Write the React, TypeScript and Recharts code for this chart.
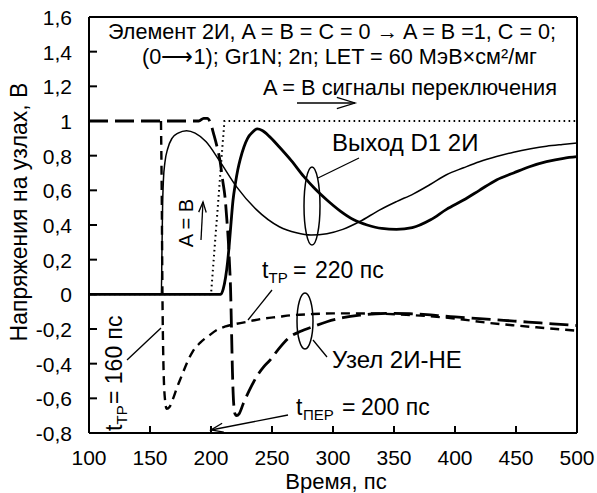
import React from 'react';
import { LineChart, Line, XAxis, YAxis, ReferenceLine } from 'recharts';

const W = 597;
const H = 493;
const FONT = '"Liberation Sans", Arial, sans-serif';

// A = B switching signal (dotted)
const sigT = [100, 200, 211, 500];
const sigV = [0, 0, 1, 1];

// output D1 2И, strike at 160 ps (thin solid)
const out1T = [100, 159.3, 159.8, 160.3, 161, 162.2, 164.5, 168, 173, 180, 187, 196, 207, 221, 237, 256, 270, 282, 295, 308, 322, 338, 352, 366, 380, 393, 407, 420, 434, 448, 462, 475, 488, 500];
const out1V = [0, 0, 0.25, 0.5, 0.66, 0.76, 0.84, 0.9, 0.93, 0.944, 0.93, 0.88, 0.77, 0.62, 0.49, 0.39, 0.355, 0.342, 0.35, 0.375, 0.42, 0.486, 0.535, 0.58, 0.635, 0.69, 0.73, 0.765, 0.795, 0.82, 0.84, 0.855, 0.865, 0.873];

// output D1 2И, strike at 220 ps (thick solid)
const out2T = [100, 208, 210, 212, 213.5, 215, 216.5, 218, 220, 222, 224, 227, 230, 234, 238, 242, 248, 256, 266, 276, 285, 295, 306, 317, 328, 340, 352, 365, 380, 393, 407, 420, 434, 448, 461, 475, 489, 500];
const out2V = [0, 0, 0.03, 0.1, 0.18, 0.29, 0.42, 0.54, 0.64, 0.72, 0.78, 0.85, 0.9, 0.935, 0.954, 0.945, 0.91, 0.85, 0.77, 0.68, 0.61, 0.544, 0.48, 0.43, 0.4, 0.38, 0.375, 0.385, 0.43, 0.49, 0.544, 0.6, 0.66, 0.7, 0.736, 0.765, 0.785, 0.794];

// node 2И-НЕ, strike at 160 ps (short dashes)
const node1T = [159, 159.6, 160.2, 161, 162.2, 163.7, 166, 169, 172, 176, 180, 185, 191, 198, 205, 212, 221, 232, 243, 255, 267, 280, 300, 320, 340, 360, 380, 400, 428, 450, 475, 500];
const node1V = [1, 0.6, 0, -0.4, -0.6, -0.66, -0.65, -0.6, -0.54, -0.47, -0.4, -0.33, -0.28, -0.24, -0.205, -0.185, -0.17, -0.155, -0.14, -0.13, -0.12, -0.115, -0.11, -0.11, -0.112, -0.118, -0.127, -0.14, -0.165, -0.18, -0.195, -0.21];

// node 2И-НЕ, strike at 220 ps (long dashes)
const node2T = [100, 190, 194, 197, 200, 202, 205, 207.4, 209.5, 211.5, 213, 214.2, 215.2, 216, 216.8, 217.6, 218.5, 219.7, 221, 223, 226.5, 231, 237.4, 243, 248.4, 256, 264.8, 273, 284, 295, 308, 322, 335, 349, 363, 377, 390, 400, 420, 440, 460, 480, 500];
const node2V = [1, 1, 1.015, 1.015, 0.98, 0.93, 0.85, 0.77, 0.66, 0.56, 0.43, 0.31, 0.17, 0.04, -0.2, -0.45, -0.62, -0.69, -0.7, -0.69, -0.63, -0.56, -0.475, -0.42, -0.38, -0.31, -0.245, -0.215, -0.185, -0.158, -0.135, -0.12, -0.112, -0.11, -0.112, -0.117, -0.125, -0.13, -0.14, -0.15, -0.16, -0.17, -0.18];

const xTicks = [100, 150, 200, 250, 300, 350, 400, 450, 500];
const yTicks = [-0.8, -0.6, -0.4, -0.2, 0, 0.2, 0.4, 0.6, 0.8, 1, 1.2, 1.4, 1.6];

const zip = (t: number[], v: number[]) => t.map((x, i) => ({ t: x, v: v[i] }));
const fmt = (v: number) => (Number.isInteger(v) ? String(v) : v.toFixed(1).replace('.', ','));

const YTick = (props: any) => {
  const { x, y, payload } = props;
  return (
    <g>
      <line x1={x + 17} x2={x + 25} y1={y} y2={y} stroke="#000" strokeWidth={2} />
      <text x={x} y={y + 8} textAnchor="end" fontSize={21} fontFamily={FONT} fill="#000">
        {fmt(payload.value)}
      </text>
    </g>
  );
};

const XTick = (props: any) => {
  const { x, y, payload } = props;
  return (
    <g>
      <line x1={x} x2={x} y1={y - 19} y2={y - 26} stroke="#000" strokeWidth={2} />
      <text x={x} y={y + 13} textAnchor="middle" fontSize={21} fontFamily={FONT} fill="#000">
        {payload.value}
      </text>
    </g>
  );
};

// open arrowhead at (x2, y2)
const Arrow = ({ x1, y1, x2, y2, len = 11, spread = 0.45 }: any) => {
  const a = Math.atan2(y1 - y2, x1 - x2);
  const p1 = [x2 + len * Math.cos(a + spread), y2 + len * Math.sin(a + spread)];
  const p2 = [x2 + len * Math.cos(a - spread), y2 + len * Math.sin(a - spread)];
  return (
    <g stroke="#000" strokeWidth={1.3} fill="none">
      <line x1={x1} y1={y1} x2={x2} y2={y2} />
      <polyline points={`${p1[0]},${p1[1]} ${x2},${y2} ${p2[0]},${p2[1]}`} />
    </g>
  );
};

const txt = { fontFamily: FONT, fill: '#000' };

const Notes = () => (
  <svg width={W} height={H} style={{ position: 'absolute', left: 0, top: 0, pointerEvents: 'none' }}>
    <g {...txt} fontSize={21.5}>
      <text x={108} y={39} textLength={448} lengthAdjust="spacingAndGlyphs">
        Элемент 2И,  A = B = C = 0 → A = B =1, C = 0;
      </text>
      <text x={142} y={64} textLength={395} lengthAdjust="spacingAndGlyphs">
        (0⟶1); Gr1N; 2n; LET = 60 МэВ×см²/мг
      </text>
      <text x={263} y={95} textLength={294} lengthAdjust="spacingAndGlyphs">
        A = B сигналы переключения
      </text>
    </g>
    <Arrow x1={297} y1={103} x2={355} y2={103} len={19} spread={0.3} />

    {/* A = B label with upward arrow */}
    <text {...txt} fontSize={20} textAnchor="middle" transform="translate(193,223) rotate(-90)">
      A = B
    </text>
    <Arrow x1={201} y1={240} x2={203} y2={202} len={11} spread={0.35} />

    {/* output label */}
    <ellipse cx={312} cy={206} rx={8} ry={39} fill="none" stroke="#000" strokeWidth={1.5} />
    <line x1={318} y1={178} x2={359} y2={158} stroke="#000" strokeWidth={1.3} />
    <text {...txt} x={332} y={151} fontSize={24}>Выход D1 2И</text>

    {/* node label */}
    <ellipse cx={305} cy={321} rx={8} ry={28} fill="none" stroke="#000" strokeWidth={1.5} />
    <line x1={313} y1={340} x2={327} y2={357} stroke="#000" strokeWidth={1.3} />
    <text {...txt} x={332} y={368} fontSize={24}>Узел 2И-НЕ</text>

    {/* t_TP = 160 ps */}
    <g transform="translate(122,431) rotate(-90)" {...txt}>
      <text x={0} y={0} fontSize={23}>t</text>
      <text x={6.5} y={5} fontSize={15}>ТР</text>
      <text x={27} y={0} fontSize={23}>= 160 пс</text>
    </g>
    <line x1={127} y1={360} x2={161} y2={328} stroke="#000" strokeWidth={1.3} />

    {/* t_TP = 220 ps */}
    <g {...txt}>
      <text x={262} y={278} fontSize={23}>t</text>
      <text x={268.5} y={283} fontSize={15}>ТР</text>
      <text x={293} y={278} fontSize={23}>=</text>
      <text x={315} y={278} fontSize={23}>220 пс</text>
    </g>
    <line x1={272} y1={290} x2={248} y2={320} stroke="#000" strokeWidth={1.3} />

    {/* t_ПЕР = 200 ps */}
    <g {...txt}>
      <text x={296} y={415} fontSize={23}>t</text>
      <text x={303} y={420} fontSize={15}>ПЕР</text>
      <text x={342} y={415} fontSize={23}>=</text>
      <text x={361} y={415} fontSize={23}>200 пс</text>
    </g>
    <Arrow x1={288} y1={415} x2={211} y2={430} len={13} spread={0.35} />

    {/* axis titles */}
    <text {...txt} fontSize={23} textAnchor="middle" transform="translate(27,212) rotate(-90)">
      Напряжения на узлах, В
    </text>
    <text {...txt} fontSize={22} textAnchor="middle" x={336} y={489}>
      Время, пс
    </text>
  </svg>
);

export default function App() {
  return (
    <div style={{ position: 'absolute', left: 0, top: 0, width: W, height: H, background: '#fff' }}>
      <LineChart width={W} height={H} margin={{ top: 17, right: 20, bottom: 30, left: 0 }}>
        <XAxis
          type="number"
          dataKey="t"
          domain={[100, 500]}
          ticks={xTicks}
          allowDataOverflow
          height={30}
          tickSize={0}
          tickMargin={19}
          tick={<XTick />}
          axisLine={{ stroke: '#000', strokeWidth: 2 }}
          interval={0}
        />
        <YAxis
          type="number"
          domain={[-0.8, 1.6]}
          ticks={yTicks}
          allowDataOverflow
          width={89}
          tickSize={0}
          tickMargin={17}
          tick={<YTick />}
          axisLine={{ stroke: '#000', strokeWidth: 2 }}
          interval={0}
        />
        <ReferenceLine y={1.6} stroke="#000" strokeWidth={2} />
        <ReferenceLine x={500} stroke="#000" strokeWidth={2} />
        <Line data={zip(sigT, sigV)} dataKey="v" type="linear" stroke="#000" strokeWidth={2} strokeDasharray="1.6 3.4" dot={false} isAnimationActive={false} />
        <Line data={zip(out1T, out1V)} dataKey="v" type="monotone" stroke="#000" strokeWidth={1.5} dot={false} isAnimationActive={false} />
        <Line data={zip(out2T, out2V)} dataKey="v" type="monotone" stroke="#000" strokeWidth={2.8} dot={false} isAnimationActive={false} />
        <Line data={zip(node1T, node1V)} dataKey="v" type="monotone" stroke="#000" strokeWidth={2.4} strokeDasharray="9 6" dot={false} isAnimationActive={false} />
        <Line data={zip(node2T, node2V)} dataKey="v" type="monotone" stroke="#000" strokeWidth={2.8} strokeDasharray="19 7" dot={false} isAnimationActive={false} />
      </LineChart>
      <Notes />
    </div>
  );
}
